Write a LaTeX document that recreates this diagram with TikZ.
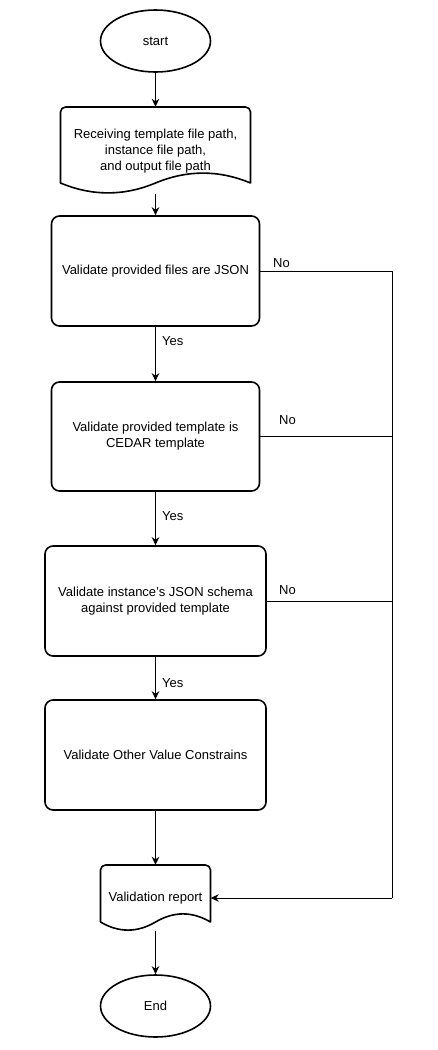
\documentclass[tikz,border=0pt]{standalone}
\usepackage{fontspec}
\setmainfont{Liberation Sans}
\usetikzlibrary{arrows.meta,shapes.geometric}
\begin{document}
\begin{tikzpicture}[x=1pt,y=-1pt,
  every node/.style={font=\fontsize{13}{16}\selectfont},
  proc/.style={draw,line width=1.6pt,rounded corners=8pt,align=center,inner sep=0pt},
  term/.style={draw,line width=1.6pt,ellipse,inner sep=0pt,minimum width=110pt,minimum height=62pt},
  docbox/.style={inner sep=0pt,align=center},
  docline/.style={line width=1.6pt,line join=round},
  conn/.style={line width=1pt,-{Stealth[length=8pt,width=7.5pt,inset=2.5pt]}},
  link/.style={line width=1pt},
  lbl/.style={anchor=west,inner sep=0pt}]
\useasboundingbox (0,0) rectangle (438,1050);

% terminals
\node[term] (start) at (155.5,41) {start};
\node[term] (end) at (155.5,1006) {End};

% input document
\node[docbox,minimum width=190pt,minimum height=87pt] (recv) at (155.5,150.5) {};
\node[docbox] (recvtxt) at (155.5,151) {Receiving template file path,\\instance file path,\\and output file path};
\draw[docline] (60.5,183) {[rounded corners=5pt] -- (60.5,107) -- (250.5,107)} -- (250.5,183)
  .. controls (218.8,169.8) and (187.2,169.8) .. (155.5,183)
  .. controls (123.8,196.2) and (92.2,196.2) .. (60.5,183) -- cycle;

% process boxes
\node[proc,minimum width=208pt,minimum height=110pt] (b1) at (155.5,271) {Validate provided files are JSON};
\node[proc,minimum width=208pt,minimum height=109pt] (b2) at (155.5,436.5) {Validate provided template is\\CEDAR template};
\node[proc,minimum width=221pt,minimum height=110pt] (b3) at (155.5,601) {Validate instance's JSON schema\\against provided template};
\node[proc,minimum width=221pt,minimum height=110pt] (b4) at (155.5,755) {Validate Other Value Constrains};

% output document
\node[docbox,minimum width=110pt,minimum height=66pt] (report) at (155.5,898) {Validation report};
\draw[docline] (100.5,922) {[rounded corners=5pt] -- (100.5,865) -- (210.5,865)} -- (210.5,922)
  .. controls (192.2,911.2) and (173.8,911.2) .. (155.5,922)
  .. controls (137.2,932.8) and (118.8,932.8) .. (100.5,922) -- cycle;

% main flow
\draw[conn] (start) -- (recv);
\draw[conn] (recv) -- (b1);
\draw[conn] (b1) -- (b2);
\draw[conn] (b2) -- (b3);
\draw[conn] (b3) -- (b4);
\draw[conn] (b4) -- (report);
\draw[conn] (report) -- (end);

% "No" branches
\coordinate (bus1) at (392,271);
\coordinate (bus2) at (392,436.5);
\coordinate (bus3) at (392,601);
\coordinate (busend) at (392,898);
\draw[link] (b1.east) -- (bus1) -- (busend);
\draw[link] (b2.east) -- (bus2);
\draw[link] (b3.east) -- (bus3);
\draw[conn] (busend) -- (report.east);

% labels
\node[lbl] (yes1) at (162,341) {Yes};
\node[lbl] (yes2) at (162,516) {Yes};
\node[lbl] (yes3) at (162,683) {Yes};
\node[lbl] (no1) at (273,263) {No};
\node[lbl] (no2) at (279,420) {No};
\node[lbl] (no3) at (279,590) {No};
\end{tikzpicture}
\end{document}
